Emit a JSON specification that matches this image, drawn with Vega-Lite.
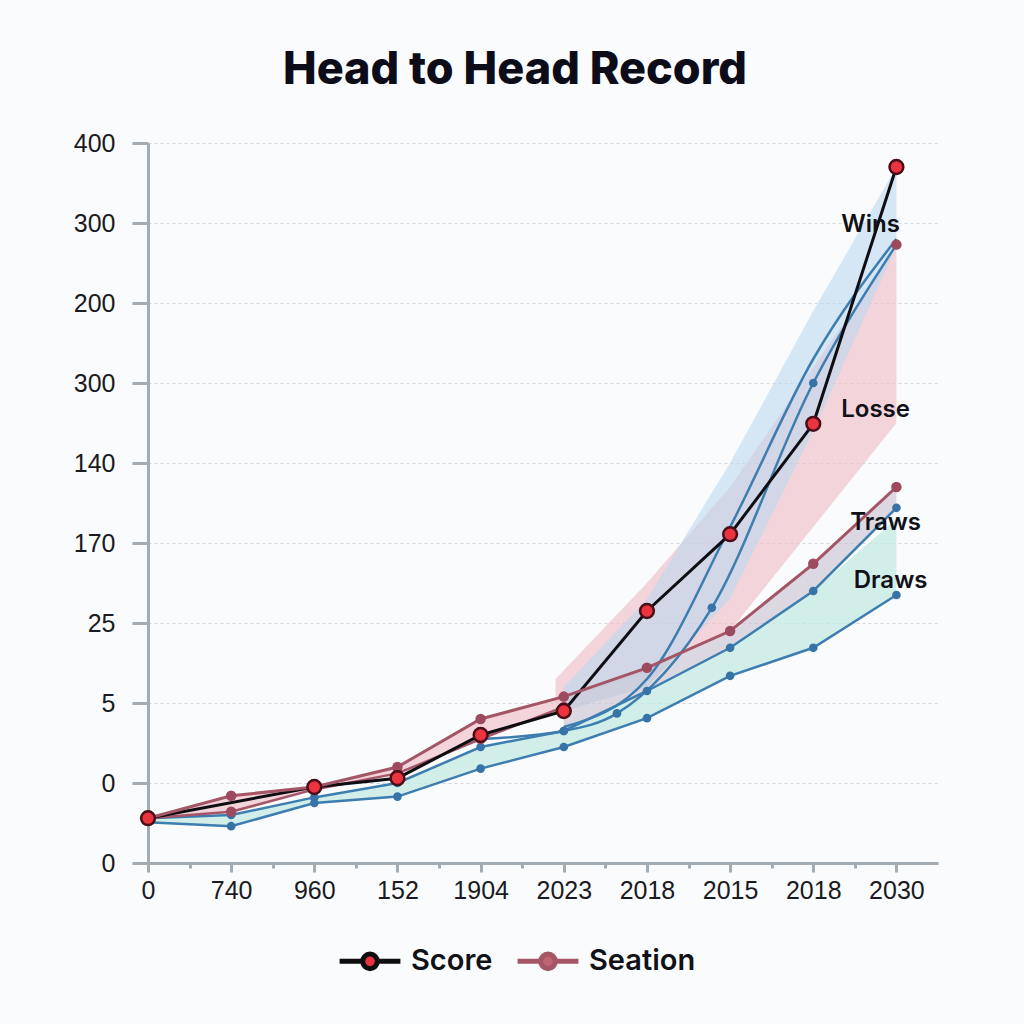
{
  "$schema": "https://vega.github.io/schema/vega-lite/v6.json",
  "width": 790,
  "height": 720,
  "autosize": {"type": "none"},
  "padding": {"left": 148, "top": 143, "right": 86, "bottom": 161},
  "background": "#fafbfc",
  "title": {
    "text": "Head to Head Record",
    "font": "Inter",
    "fontSize": 45,
    "fontWeight": 800,
    "color": "#0d0d1a",
    "anchor": "middle",
    "dx": -28,
    "offset": 38
  },
  "config": {
    "view": {"stroke": null},
    "axis": {
      "labelFont": "Liberation Sans",
      "labelFontSize": 25,
      "labelColor": "#1a1a22",
      "domainColor": "#a3abb3",
      "domainWidth": 3,
      "tickColor": "#a3abb3",
      "tickWidth": 3,
      "title": null
    }
  },
  "datasets": {
    "lines": [
      {"s": "Score", "x": 0, "y": 0.56}, {"s": "Score", "x": 2, "y": 0.95}, {"s": "Score", "x": 3, "y": 1.06}, {"s": "Score", "x": 4, "y": 1.6}, {"s": "Score", "x": 5, "y": 1.9}, {"s": "Score", "x": 6, "y": 3.15}, {"s": "Score", "x": 7, "y": 4.11}, {"s": "Score", "x": 8, "y": 5.49}, {"s": "Score", "x": 9, "y": 8.7},
      {"s": "Seation", "x": 0, "y": 0.56}, {"s": "Seation", "x": 1, "y": 0.84}, {"s": "Seation", "x": 2, "y": 0.95}, {"s": "Seation", "x": 3, "y": 1.2}, {"s": "Seation", "x": 4, "y": 1.8}, {"s": "Seation", "x": 5, "y": 2.08}, {"s": "Seation", "x": 6, "y": 2.44}, {"s": "Seation", "x": 7, "y": 2.9}, {"s": "Seation", "x": 8, "y": 3.74}, {"s": "Seation", "x": 9, "y": 4.7},
      {"s": "Maroon2", "x": 0, "y": 0.56}, {"s": "Maroon2", "x": 1, "y": 0.64}, {"s": "Maroon2", "x": 2, "y": 0.92}, {"s": "Maroon2", "x": 3, "y": 1.12}, {"s": "Maroon2", "x": 4, "y": 1.55}, {"s": "Maroon2", "x": 5, "y": 1.95},
      {"s": "BlueLow", "x": 0, "y": 0.51}, {"s": "BlueLow", "x": 1, "y": 0.46}, {"s": "BlueLow", "x": 2, "y": 0.75}, {"s": "BlueLow", "x": 3, "y": 0.83}, {"s": "BlueLow", "x": 4, "y": 1.18}, {"s": "BlueLow", "x": 5, "y": 1.45}, {"s": "BlueLow", "x": 6, "y": 1.81}, {"s": "BlueLow", "x": 7, "y": 2.34}, {"s": "BlueLow", "x": 8, "y": 2.69}, {"s": "BlueLow", "x": 9, "y": 3.35},
      {"s": "BlueMid", "x": 0, "y": 0.56}, {"s": "BlueMid", "x": 1, "y": 0.6}, {"s": "BlueMid", "x": 2, "y": 0.82}, {"s": "BlueMid", "x": 3, "y": 1.0}, {"s": "BlueMid", "x": 4, "y": 1.45}, {"s": "BlueMid", "x": 5, "y": 1.65}, {"s": "BlueMid", "x": 6, "y": 2.15}, {"s": "BlueMid", "x": 7, "y": 2.69}, {"s": "BlueMid", "x": 8, "y": 3.4}, {"s": "BlueMid", "x": 9, "y": 4.44},
      {"s": "BlueSteep", "x": 4, "y": 1.55}, {"s": "BlueSteep", "x": 5, "y": 1.65}, {"s": "BlueSteep", "x": 5.64, "y": 1.87}, {"s": "BlueSteep", "x": 6.78, "y": 3.19}, {"s": "BlueSteep", "x": 8, "y": 6.0}, {"s": "BlueSteep", "x": 9, "y": 7.73},
      {"s": "BlueSteep2", "x": 5, "y": 1.7}, {"s": "BlueSteep2", "x": 6, "y": 2.3}, {"s": "BlueSteep2", "x": 7, "y": 4.2}, {"s": "BlueSteep2", "x": 8, "y": 6.3}, {"s": "BlueSteep2", "x": 9, "y": 7.8},
      {"s": "WinsPt", "x": 9, "y": 7.73}
    ],
    "areas": [
      {"a": "LowPink", "x": 0, "y1": 0.56, "y2": 0.56}, {"a": "LowPink", "x": 1, "y1": 0.64, "y2": 0.84}, {"a": "LowPink", "x": 2, "y1": 0.92, "y2": 0.95}, {"a": "LowPink", "x": 3, "y1": 1.12, "y2": 1.2}, {"a": "LowPink", "x": 4, "y1": 1.55, "y2": 1.8}, {"a": "LowPink", "x": 5, "y1": 1.95, "y2": 2.08},
      {"a": "Draws", "x": 0, "y1": 0.51, "y2": 0.56}, {"a": "Draws", "x": 1, "y1": 0.46, "y2": 0.6}, {"a": "Draws", "x": 2, "y1": 0.75, "y2": 0.82}, {"a": "Draws", "x": 3, "y1": 0.83, "y2": 1.0}, {"a": "Draws", "x": 4, "y1": 1.18, "y2": 1.45}, {"a": "Draws", "x": 5, "y1": 1.45, "y2": 1.65}, {"a": "Draws", "x": 6, "y1": 1.81, "y2": 2.15}, {"a": "Draws", "x": 7, "y1": 2.34, "y2": 2.69}, {"a": "Draws", "x": 8, "y1": 2.69, "y2": 3.4}, {"a": "Draws", "x": 9, "y1": 3.35, "y2": 4.3},
      {"a": "Traws", "x": 5, "y1": 1.65, "y2": 2.08}, {"a": "Traws", "x": 6, "y1": 2.15, "y2": 2.44}, {"a": "Traws", "x": 7, "y1": 2.69, "y2": 2.9}, {"a": "Traws", "x": 8, "y1": 3.4, "y2": 3.74}, {"a": "Traws", "x": 9, "y1": 4.44, "y2": 4.7},
      {"a": "Losses", "x": 4.9, "y1": 2.0, "y2": 2.3}, {"a": "Losses", "x": 6, "y1": 2.4, "y2": 3.5}, {"a": "Losses", "x": 7, "y1": 2.9, "y2": 4.7}, {"a": "Losses", "x": 8, "y1": 4.2, "y2": 6.2}, {"a": "Losses", "x": 9, "y1": 5.5, "y2": 7.7},
      {"a": "Wins", "x": 5, "y1": 1.9, "y2": 2.2}, {"a": "Wins", "x": 6, "y1": 2.2, "y2": 3.3}, {"a": "Wins", "x": 7, "y1": 3.3, "y2": 5.0}, {"a": "Wins", "x": 8, "y1": 5.4, "y2": 6.9}, {"a": "Wins", "x": 9, "y1": 7.7, "y2": 8.7}
    ],
    "labels": [
      {"t": "Wins", "x": 8.69, "y": 7.98},
      {"t": "Losse", "x": 8.75, "y": 5.66},
      {"t": "Traws", "x": 8.87, "y": 4.25},
      {"t": "Draws", "x": 8.93, "y": 3.53}
    ]
  },
  "encoding": {
    "x": {
      "field": "x",
      "type": "quantitative",
      "scale": {"domain": [0, 9.5], "nice": false, "zero": false},
      "axis": {
        "values": [0, 0.5, 1, 1.5, 2, 2.5, 3, 3.5, 4, 4.5, 5, 5.5, 6, 6.5, 7, 7.5, 8, 8.5, 9],
        "labelExpr": "datum.value % 1 === 0 ? ['0','740','960','152','1904','2023','2018','2015','2018','2030'][datum.value] : ''",
        "tickSize": {"condition": {"test": "datum.value % 1 !== 0", "value": 5}, "value": 9},
        "labelPadding": 6,
        "grid": false,
        "labelFlush": false,
        "labelOverlap": false
      }
    },
    "y": {
      "field": "y",
      "type": "quantitative",
      "scale": {"domain": [0, 9], "nice": false, "zero": false},
      "axis": {
        "values": [0, 1, 2, 3, 4, 5, 6, 7, 8, 9],
        "labelExpr": "['0','0','5','25','170','140','300','200','300','400'][datum.value]",
        "tickSize": 16,
        "labelPadding": 17,
        "grid": true,
        "gridColor": "#d2d7dd",
        "gridDash": [3, 3],
        "gridWidth": 1,
        "labelFlush": false,
        "labelOverlap": false
      }
    }
  },
  "layer": [
    {
      "data": {"name": "areas"},
      "transform": [{"filter": "datum.a === 'Losses' || datum.a === 'LowPink'"}],
      "mark": {"type": "area", "color": "#eebac4", "opacity": 0.6},
      "encoding": {"y": {"field": "y1", "type": "quantitative"}, "y2": {"field": "y2"}, "detail": {"field": "a"}}
    },
    {
      "data": {"name": "areas"},
      "transform": [{"filter": "datum.a === 'Wins'"}],
      "mark": {"type": "area", "color": "#bcd9ee", "opacity": 0.6},
      "encoding": {"y": {"field": "y1", "type": "quantitative"}, "y2": {"field": "y2"}}
    },
    {
      "data": {"name": "areas"},
      "transform": [{"filter": "datum.a === 'Draws'"}],
      "mark": {"type": "area", "color": "#c3eae2", "opacity": 0.75},
      "encoding": {"y": {"field": "y1", "type": "quantitative"}, "y2": {"field": "y2"}}
    },
    {
      "data": {"name": "areas"},
      "transform": [{"filter": "datum.a === 'Traws'"}],
      "mark": {"type": "area", "color": "#c7c1cf", "opacity": 0.6},
      "encoding": {"y": {"field": "y1", "type": "quantitative"}, "y2": {"field": "y2"}}
    },
    {
      "data": {"name": "lines"},
      "transform": [{"filter": "indexof(['BlueSteep','BlueSteep2'], datum.s) >= 0"}],
      "mark": {"type": "line", "color": "#3d7db0", "strokeWidth": 2.5, "interpolate": "monotone"},
      "encoding": {"detail": {"field": "s"}}
    },
    {
      "data": {"name": "lines"},
      "transform": [{"filter": "indexof(['BlueLow','BlueMid'], datum.s) >= 0"}],
      "mark": {"type": "line", "color": "#3d7db0", "strokeWidth": 2.5},
      "encoding": {"detail": {"field": "s"}}
    },
    {
      "data": {"name": "lines"},
      "transform": [{"filter": "datum.s === 'Maroon2'"}],
      "mark": {"type": "line", "color": "#a45566", "strokeWidth": 2.5},
      "encoding": {}
    },
    {
      "data": {"name": "lines"},
      "transform": [{"filter": "indexof(['BlueLow','BlueMid','BlueSteep'], datum.s) >= 0 && datum.x > 0"}],
      "mark": {"type": "circle", "color": "#3873a8", "opacity": 1, "size": 75},
      "encoding": {}
    },
    {
      "data": {"name": "lines"},
      "transform": [{"filter": "datum.s === 'Seation' || datum.s === 'Score'"}],
      "mark": {"type": "line", "strokeWidth": 3},
      "encoding": {
        "color": {
          "field": "s",
          "type": "nominal",
          "scale": {"domain": ["Score", "Seation"], "range": ["#0d0d12", "#a45566"]},
          "legend": {
            "orient": "none",
            "legendX": 189,
            "legendY": 785,
            "direction": "horizontal",
            "title": null,
            "labelFont": "Inter",
            "labelFontSize": 29,
            "labelFontWeight": 600,
            "labelColor": "#111118",
            "symbolType": "M-1,0H-0.24M0.24,0H1M-0.24,0A0.24,0.24,0,1,0,0.24,0A0.24,0.24,0,1,0,-0.24,0Z",
            "symbolSize": 3700,
            "symbolStrokeWidth": 5,
            "labelOffset": 8,
            "columnPadding": 14,
            "encode": {
              "symbols": {
                "update": {
                  "fill": {"signal": "datum.value === 'Score' ? '#e8323f' : '#c06474'"},
                  "stroke": {"signal": "datum.value === 'Score' ? '#111111' : '#c06474'"},
                  "fillOpacity": {"value": 1}
                }
              }
            }
          }
        }
      }
    },
    {
      "data": {"name": "lines"},
      "transform": [{"filter": "datum.s === 'Seation' || datum.s === 'Maroon2' || datum.s === 'WinsPt'"}],
      "mark": {"type": "circle", "color": "#9e4a5e", "opacity": 1, "size": 110},
      "encoding": {}
    },
    {
      "data": {"name": "lines"},
      "transform": [{"filter": "datum.s === 'Score'"}],
      "mark": {"type": "point", "shape": "circle", "filled": true, "fill": "#ec3340", "stroke": "#4a0e18", "strokeWidth": 2.5, "opacity": 1, "size": 190},
      "encoding": {}
    },
    {
      "data": {"name": "labels"},
      "mark": {"type": "text", "font": "Inter", "fontSize": 24, "fontWeight": 600, "color": "#111118", "align": "center", "baseline": "middle"},
      "encoding": {"text": {"field": "t"}}
    }
  ]
}
